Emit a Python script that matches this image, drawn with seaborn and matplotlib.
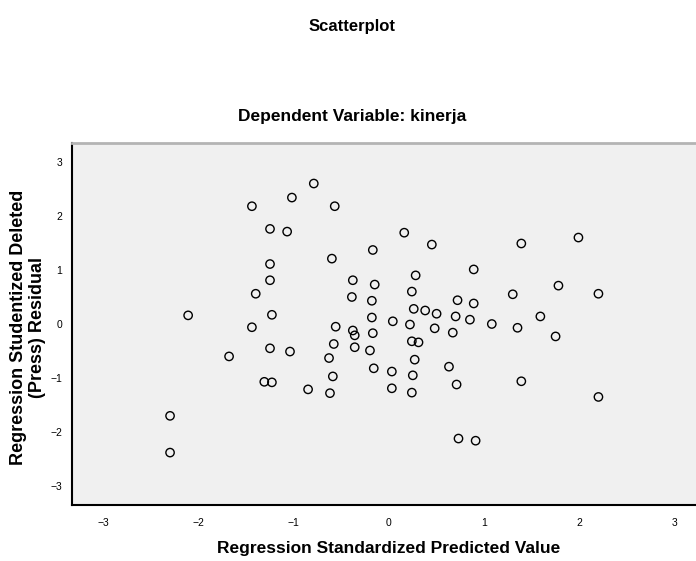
import numpy as np
import pandas as pd
import matplotlib as mpl
mpl.use("Agg")
import matplotlib.pyplot as plt
import seaborn as sns

# valores (predicho estandarizado vs residuo studentizado eliminado)
pred_std = [-0.79, -1.02, -1.44, -0.57, -1.25, -1.07, 0.16, 1.99, 0.45, 1.39,
            -0.17, -0.60, -1.25, 0.28, 0.89, -1.25, -0.38, -0.15, 1.78, -1.40,
            0.24, 1.30, 2.20, -0.39, -0.18, 0.72, 0.26, 0.38, 0.50, 0.89,
            -2.11, -1.23, -0.18, 0.04, 0.22, 0.70, 0.85, 1.08, 1.59, -1.44,
            -0.56, -0.38, -0.17, 0.48, 0.67, 1.35, 1.75, 0.24, 0.31, -1.25,
            -0.58, -0.36, -0.20, -1.04, -1.68, -0.63, 0.27, 0.63, 0.03, -0.16,
            0.25, -0.59, -1.31, -1.23, 0.71, 1.39, -0.85, 0.03, 0.24, -0.62,
            2.20, 0.73, 0.91, -2.30, -2.30, -0.36]
resid_del = [2.60, 2.34, 2.18, 2.18, 1.76, 1.71, 1.69, 1.60, 1.47, 1.49,
             1.37, 1.21, 1.11, 0.90, 1.01, 0.81, 0.81, 0.73, 0.71, 0.56,
             0.60, 0.55, 0.56, 0.50, 0.43, 0.44, 0.28, 0.25, 0.19, 0.38,
             0.16, 0.17, 0.12, 0.05, -0.01, 0.14, 0.08, 0.00, 0.14, -0.06,
             -0.05, -0.12, -0.17, -0.08, -0.16, -0.07, -0.23, -0.32, -0.34, -0.45,
             -0.37, -0.43, -0.49, -0.51, -0.60, -0.63, -0.66, -0.79, -0.88, -0.82,
             -0.95, -0.97, -1.07, -1.08, -1.12, -1.06, -1.21, -1.19, -1.27, -1.28,
             -1.35, -2.12, -2.16, -1.70, -2.38, -0.21]

ticks = [-3, -2, -1, 0, 1, 2, 3]

df = pd.DataFrame({"pred": pred_std, "resid": resid_del})

sns.set_style("white")
plt.rcParams["font.family"] = ["Liberation Sans", "DejaVu Sans"]
plt.rcParams["text.color"] = "black"
plt.rcParams["axes.labelcolor"] = "black"
plt.rcParams["xtick.color"] = "black"
plt.rcParams["ytick.color"] = "black"

fig = plt.figure(figsize=(6.96, 5.61), dpi=100)
ax = fig.add_axes([72 / 696, 1 - 505 / 561, 634 / 696, 362 / 561])
ax.set_facecolor("#f0f0f0")

sns.scatterplot(data=df, x="pred", y="resid", ax=ax, marker="o", s=36,
                facecolor="none", edgecolor="black", linewidth=1.0)

ax.set_xlim(-3.33, 3.33)
ax.set_ylim(-3.35, 3.35)
ax.set_xticks(ticks)
ax.set_yticks(ticks)
ax.tick_params(axis="x", direction="out", length=7, width=1.2, labelsize=7.5, pad=2)
ax.tick_params(axis="y", direction="out", length=5, width=1.2, labelsize=7.5, pad=2)

for lado in ["left", "bottom"]:
    ax.spines[lado].set_color("black")
    ax.spines[lado].set_linewidth(1.5)
ax.spines["top"].set_color("#b4b4b4")
ax.spines["top"].set_linewidth(2)
ax.spines["right"].set_visible(False)

ax.set_xlabel("Regression Standardized Predicted Value", fontsize=12.5, fontweight="bold")
ax.set_ylabel("Regression Studentized Deleted\n(Press) Residual", fontsize=13, fontweight="bold")
ax.xaxis.label.set_verticalalignment("center")
ax.yaxis.label.set_verticalalignment("center")
ax.xaxis.set_label_coords((389 - 72) / 634, -(548 - 505) / 362)
ax.yaxis.set_label_coords(-(72 - 28) / 634, (505 - 327) / 362)

fig.text(352 / 696, 1 - 27 / 561, "Scatterplot", ha="center", va="center", fontsize=12, fontweight="bold")
fig.text(352 / 696, 1 - 117 / 561, "Dependent Variable: kinerja", ha="center", va="center", fontsize=12.5, fontweight="bold")

fig.savefig("out.png", dpi=100)
